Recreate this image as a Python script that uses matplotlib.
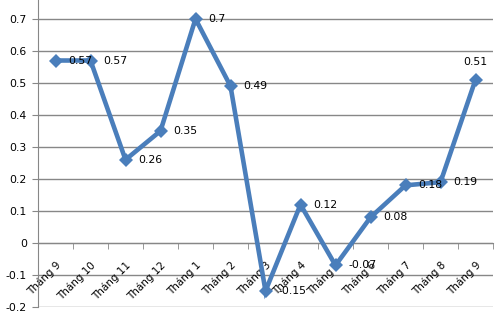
import matplotlib.pyplot as plt
import numpy as np

months = ['Tháng 9', 'Tháng 10', 'Tháng 11', 'Tháng 12', 'Tháng 1', 'Tháng 2', 'Tháng 3',
          'Tháng 4', 'Tháng 5', 'Tháng 6', 'Tháng 7', 'Tháng 8', 'Tháng 9']
values = [0.57, 0.57, 0.26, 0.35, 0.7, 0.49, -0.15, 0.12, -0.07, 0.08, 0.18, 0.19, 0.51]
yticks = [-0.2, -0.1, 0, 0.1, 0.2, 0.3, 0.4, 0.5, 0.6, 0.7]

fig = plt.figure(figsize=(5, 3.12), dpi=100)
ax = fig.add_axes([0.076, 0.016, 0.91, 0.984])
x = np.arange(len(values))

ax.set_axisbelow(True)
for t in yticks:
    ax.axhline(t, color='#878787', lw=1, zorder=0)

ax.plot(x, values, color='#4a7ebb', lw=3.3, marker='D', markersize=7.5,
        markeredgewidth=0, zorder=3, solid_joinstyle='miter')

# data labels
for i, v in enumerate(values):
    if i == len(values) - 1:
        ax.annotate(f'{v:g}', (i, v), xytext=(0, 9), textcoords='offset points',
                    ha='center', va='bottom', fontsize=7.8)
    else:
        ax.annotate(f'{v:g}', (i, v), xytext=(9, 0), textcoords='offset points',
                    ha='left', va='center', fontsize=7.8)

ax.set_xlim(-0.5, len(values) - 0.5)
ax.set_ylim(-0.2, 0.759)

ax.spines['top'].set_visible(False)
ax.spines['right'].set_visible(False)
ax.spines['left'].set_color('#878787')
ax.spines['bottom'].set_position(('data', 0))
ax.spines['bottom'].set_color('#878787')

ax.set_yticks(yticks)
ax.set_yticklabels([f'{t:g}' for t in yticks], fontsize=7.8)
ax.tick_params(axis='y', length=4, color='#878787', pad=4)

ax.set_xticks(x)
ax.set_xticklabels(months, rotation=45, ha='right', va='top',
                   rotation_mode='anchor', fontsize=7.5)
ax.set_xticks(np.arange(len(values) + 1) - 0.5, minor=True)
ax.tick_params(axis='x', which='major', length=0, pad=12)
ax.tick_params(axis='x', which='minor', length=4, color='#878787', direction='out')

fig.savefig('out.png', dpi=100)
